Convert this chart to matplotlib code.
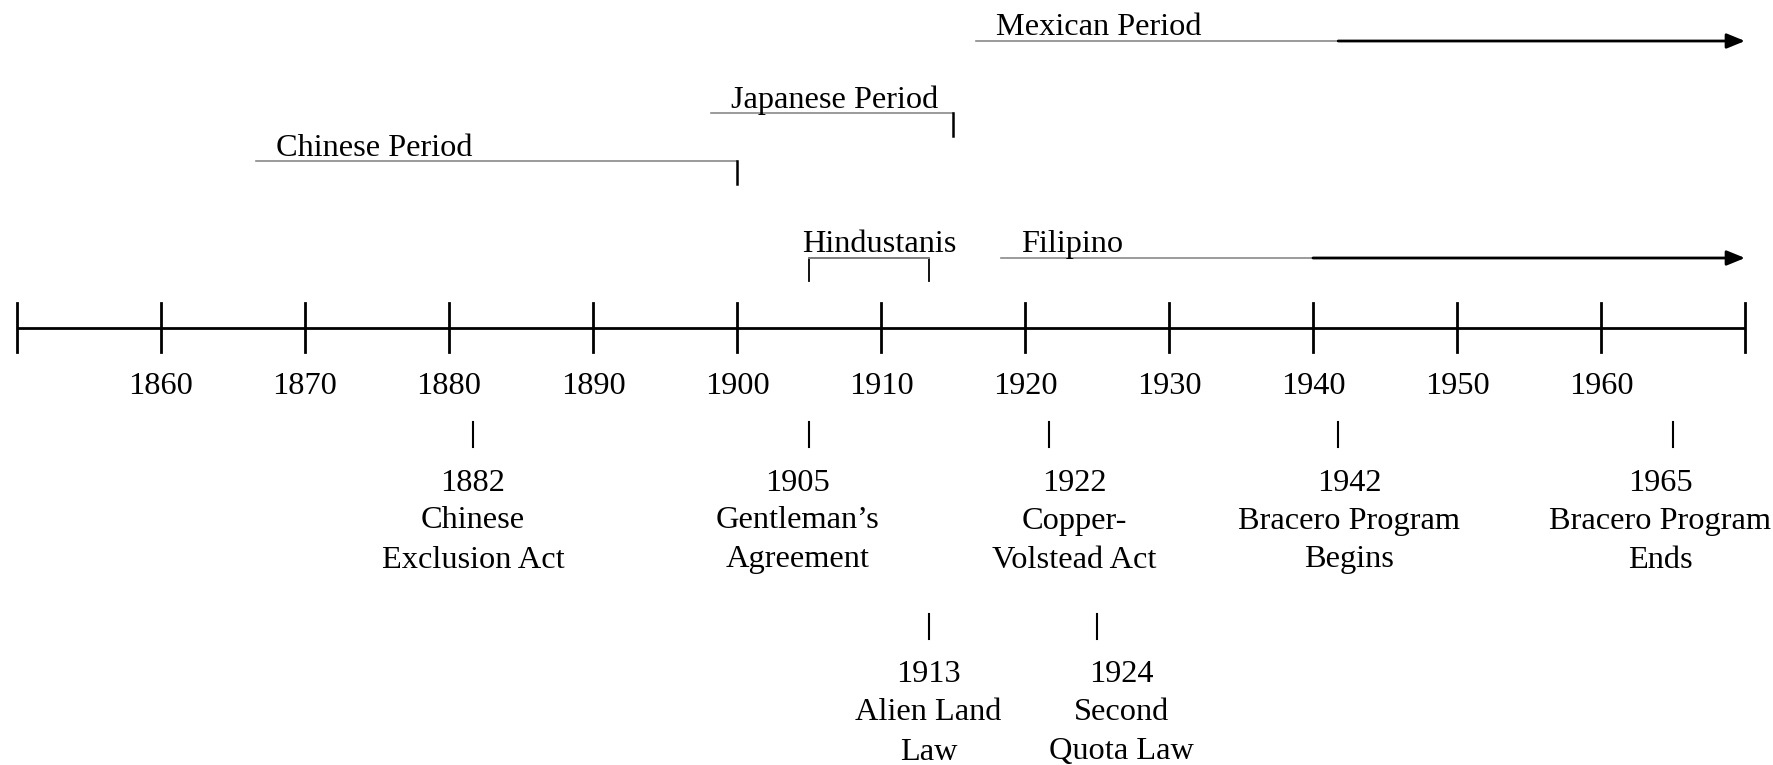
import matplotlib
matplotlib.use("Agg")
import matplotlib.pyplot as plt

plt.rcParams['font.family'] = ['Liberation Serif', 'DejaVu Serif']

# ---- data ----
tick_years = [1850, 1860, 1870, 1880, 1890, 1900, 1910, 1920, 1930, 1940, 1950, 1960, 1970]
tick_labels = ["", "1860", "1870", "1880", "1890", "1900", "1910", "1920", "1930", "1940", "1950", "1960", ""]

# closed periods (gray line + black end tick)
closed_names = ["Chinese Period", "Japanese Period"]
closed_start = [1866.6, 1898.2]
closed_end = [1900.0, 1915.0]
closed_text_x = [1868.0, 1899.6]

# open periods (gray line, then black arrow to the end)
open_names = ["Mexican Period", "Filipino"]
open_start = [1916.6, 1918.3]
open_mid = [1941.75, 1940.0]
open_end = [1970.0, 1970.0]
open_text_x = [1918.0, 1919.7]

# bracket period
bracket_name = "Hindustanis"
bracket_start = 1905.0
bracket_end = 1913.3
bracket_text_x = 1909.9

# events
event_years = ["1882", "1905", "1913", "1922", "1924", "1942", "1965"]
event_texts = [["Chinese", "Exclusion Act"],
               ["Gentleman\u2019s", "Agreement"],
               ["Alien Land", "Law"],
               ["Copper-", "Volstead Act"],
               ["Second", "Quota Law"],
               ["Bracero Program", "Begins"],
               ["Bracero Program", "Ends"]]
event_marker_x = [1881.66, 1904.99, 1913.3, 1921.7, 1925.0, 1941.75, 1965.0]
event_label_x = [1881.66, 1904.2, 1913.3, 1923.4, 1926.7, 1942.5, 1964.1]
event_row = [0, 0, 1, 0, 1, 0, 0]

# ---- layout (pixel y) ----
W, H = 1774, 765
fig = plt.figure(figsize=(W / 100, H / 100), dpi=100)
ax = fig.add_axes([0, 0, 1, 1])
x0 = 1850 - 17 / 14.4
ax.set_xlim(x0, x0 + W / 14.4)
ax.set_ylim(H, 0)
ax.axis('off')

FS = 23.3
GRAY = '#8a8a8a'
DY = 4  # text vertical nudge

# main axis
axis_y = 328
ax.plot([tick_years[0], tick_years[-1]], [axis_y, axis_y], color='black', lw=2, solid_capstyle='butt')
for yr, lab in zip(tick_years, tick_labels):
    ax.plot([yr, yr], [303, 352], color='black', lw=2)
    if lab:
        ax.text(yr, 382 + DY, lab, ha='center', va='center', fontsize=FS)

# closed periods
closed_y = [161, 113]
for name, s, e, tx, y in zip(closed_names, closed_start, closed_end, closed_text_x, closed_y):
    ax.plot([s, e], [y, y], color=GRAY, lw=1.2)
    ax.plot([e, e], [y, y + 23], color='black', lw=1.8)
    ax.text(tx, y - 17 + DY, name, ha='left', va='center', fontsize=FS)

# open periods
open_y = [41, 258]
for name, s, m, e, tx, y in zip(open_names, open_start, open_mid, open_end, open_text_x, open_y):
    ax.plot([s, m], [y, y], color=GRAY, lw=1.2)
    ax.annotate('', xy=(e, y), xytext=(m, y),
                arrowprops=dict(arrowstyle='-|>,head_length=1.1,head_width=0.45',
                                color='black', lw=2, shrinkA=0, shrinkB=0))
    ax.text(tx, y - 18 + DY, name, ha='left', va='center', fontsize=FS)

# bracket
by = 258
ax.plot([bracket_start, bracket_start, bracket_end, bracket_end],
        [by + 23, by, by, by + 23], color='black', lw=1.3)
ax.plot([bracket_start, bracket_end], [by, by], color=GRAY, lw=1.3)
ax.text(bracket_text_x, by - 18 + DY, bracket_name, ha='center', va='center', fontsize=FS)

# events
row_mark = [(422, 447), (614, 639)]
row_lines = [(479, 517, 556), (671, 709, 748)]
for yr, txt, mx, lx, r in zip(event_years, event_texts, event_marker_x, event_label_x, event_row):
    m0, m1 = row_mark[r]
    ax.plot([mx, mx], [m0, m1], color='black', lw=1.5)
    lines = [yr] + txt
    for t, y in zip(lines, row_lines[r]):
        ax.text(lx, y + DY, t, ha='center', va='center', fontsize=FS)

fig.savefig('out.png', dpi=100)
